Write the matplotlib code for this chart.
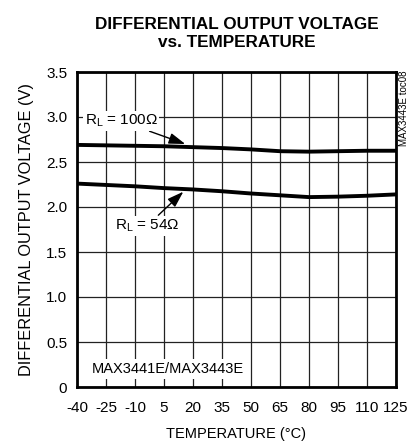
import matplotlib
matplotlib.use('Agg')
import matplotlib.pyplot as plt
import numpy as np

plt.rcParams['font.family'] = ['Liberation Sans', 'DejaVu Sans']
plt.rcParams['axes.unicode_minus'] = False

temperature = [-40, -25, -10, 5, 20, 35, 50, 65, 80, 95, 110, 125]
v_100ohm = [2.69, 2.685, 2.68, 2.675, 2.665, 2.655, 2.64, 2.62, 2.615, 2.62, 2.625, 2.625]
v_54ohm = [2.26, 2.245, 2.23, 2.21, 2.195, 2.175, 2.15, 2.13, 2.11, 2.115, 2.125, 2.14]

x_ticks = temperature
y_ticks = [0, 0.5, 1.0, 1.5, 2.0, 2.5, 3.0, 3.5]
y_tick_labels = ['0', '0.5', '1.0', '1.5', '2.0', '2.5', '3.0', '3.5']

fig = plt.figure(figsize=(4.09, 4.44), dpi=100)
ax = fig.add_axes([77 / 409, 1 - 387 / 444, (396 - 77) / 409, (387 - 72) / 444])

ax.plot(temperature, v_100ohm, color='black', lw=2.8, zorder=3)
ax.plot(temperature, v_54ohm, color='black', lw=2.8, zorder=3)

ax.set_xlim(-40, 125)
ax.set_ylim(0, 3.5)
ax.set_xticks(x_ticks)
ax.set_yticks(y_ticks)
ax.set_yticklabels(y_tick_labels)
ax.tick_params(length=0, labelsize=11)
ax.tick_params(axis='x', pad=10)
ax.tick_params(axis='y', pad=7)
ax.grid(True, color='#222222', lw=0.9)
for s in ax.spines.values():
    s.set_linewidth(2)

ax.set_xlabel('TEMPERATURE (°C)', fontsize=10.5, labelpad=9)
ax.set_ylabel('DIFFERENTIAL OUTPUT VOLTAGE (V)', fontsize=11.8, labelpad=9)

fig.text(0.58, 1 - 33.5 / 444, 'DIFFERENTIAL OUTPUT VOLTAGE\nvs. TEMPERATURE',
         ha='center', va='center', fontsize=12.3, fontweight='bold', linespacing=1.2)

bbox = dict(facecolor='white', edgecolor='none', pad=1)
arrow = dict(arrowstyle='-|>,head_length=0.9,head_width=0.3', color='black', lw=1,
             shrinkA=1, shrinkB=0)
ax.annotate(r'R$_\mathregular{L}$ = 100Ω', xy=(16, 2.70), xytext=(-17.2, 2.955),
            ha='center', va='center', fontsize=11, bbox=bbox, arrowprops=arrow)
ax.annotate(r'R$_\mathregular{L}$ = 54Ω', xy=(15, 2.17), xytext=(-3.8, 1.79),
            ha='center', va='center', fontsize=11, bbox=bbox, arrowprops=arrow)

ax.text(-32.2, 0.2, 'MAX3441E/MAX3443E', ha='left', va='center', fontsize=10.5,
        bbox=dict(facecolor='white', edgecolor='none', pad=2), zorder=4)

fig.text(0.988, 1 - 70 / 444, 'MAX3443E toc08', rotation=90, ha='center', va='top', fontsize=7)

fig.savefig('out.png', dpi=100)
